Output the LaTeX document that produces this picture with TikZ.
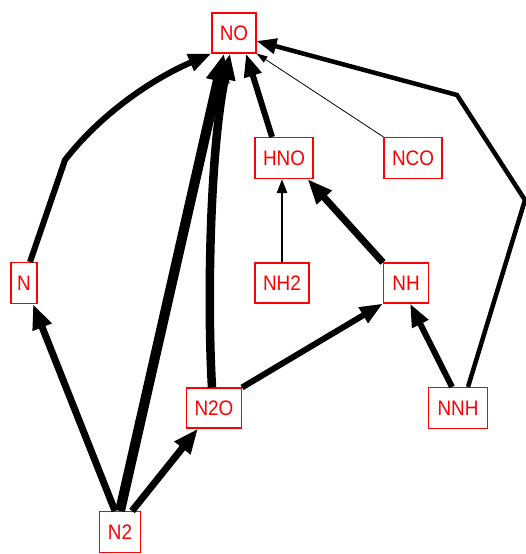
\documentclass[tikz,border=0pt]{standalone}
\usepackage{fontspec}
\setmainfont{Liberation Sans}
\newfontfamily\lblfont[FakeStretch=0.9]{Liberation Sans}
\usetikzlibrary{arrows.meta}
\begin{document}
\begin{tikzpicture}[x=1pt,y=-1pt,
  box/.style={draw=red, line width=1.1pt, text=red, inner sep=0pt, font=\lblfont\fontsize{21}{21}\selectfont},
  ethin/.style={line width=0.8pt, -{Triangle[length=11pt,width=7pt]}},
  ethree/.style={line width=2.5pt, -{Triangle[length=14pt,width=10pt]}},
  efive/.style={line width=4.5pt, -{Triangle[length=20pt,width=15pt]}},
  eseven/.style={line width=6pt, -{Triangle[length=23pt,width=17pt]}},
  eeight/.style={line width=7pt, -{Triangle[length=25pt,width=19pt]}},
  enine/.style={line width=8.5pt, -{Triangle[length=26pt,width=20pt]}},
  eeleven/.style={line width=10pt, -{Triangle[length=28pt,width=22pt]}}]
\useasboundingbox (0,0) rectangle (526,554);
% nodes
\node[box, minimum width=44pt, minimum height=40pt] (NO)  at (234,33)  {NO};
\node[box, minimum width=58pt, minimum height=41pt] (HNO) at (284,158) {HNO};
\node[box, minimum width=58pt, minimum height=41pt] (NCO) at (413,158) {NCO};
\node[box, minimum width=54pt, minimum height=40pt] (NH2) at (282,283) {NH2};
\node[box, minimum width=45pt, minimum height=40pt] (NH)  at (406,283) {NH};
\node[box, minimum width=26pt, minimum height=41pt] (N)   at (24,283)  {N};
\node[box, minimum width=55pt, minimum height=40pt] (N2O) at (214,408) {N2O};
\node[box, minimum width=41pt, minimum height=41pt] (N2)  at (120,532) {N2};
\node[box, minimum width=59pt, minimum height=41pt] (NNH) at (458,408) {NNH};
% helper bend points
\coordinate (b1) at (65,160);
\coordinate (b2) at (525,200);
\coordinate (b3) at (457,95);
% edges
\draw[eeleven] (N2.north) -- ([xshift=-10pt]NO.south);
\draw[enine] ([xshift=-2pt]N2O.north) .. controls (207,300) and (210,150) .. ([xshift=-4pt]NO.south);
\draw[eseven] ([xshift=-12pt]HNO.north) -- ([xshift=12pt]NO.south);
\draw[ethin] (NCO.north west) -- (NO.south east);
\draw[efive] ([xshift=10pt]NNH.north) -- (b2) -- (b3) -- ([yshift=-8pt]NO.east);
\draw[ethree] (NH2.north) -- ([xshift=-2pt]HNO.south);
\draw[eeight] (NH.north west) -- ([xshift=-6pt]HNO.south east);
\draw[eseven] (N2O.north east) -- (NH.south west);
\draw[eseven] ([xshift=-6pt]NNH.north) -- ([xshift=4pt]NH.south);
\draw[eeight] ([xshift=-5pt]N2.north) -- ([xshift=9pt]N.south);
\draw[eeight] ([xshift=12pt]N2.north) -- ([xshift=-16pt]N2O.south);
\draw[eseven] ([xshift=6pt]N.north) -- (b1) .. controls (100,115) and (150,80) .. (NO.south west);
\end{tikzpicture}
\end{document}
